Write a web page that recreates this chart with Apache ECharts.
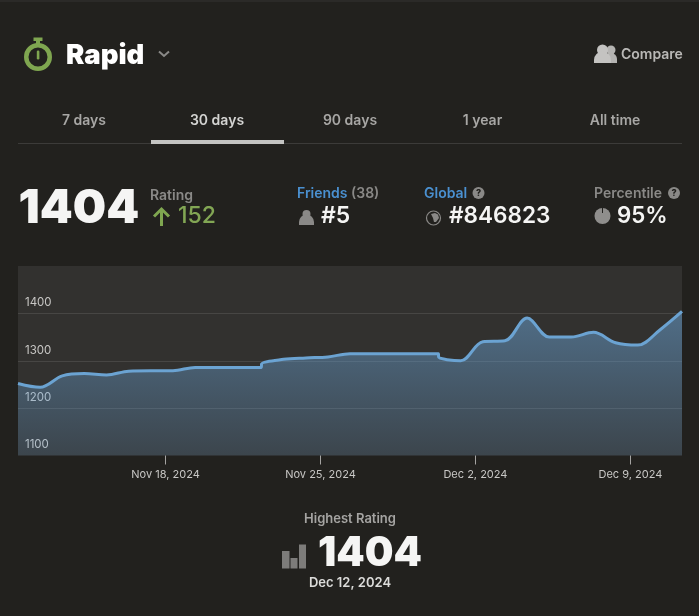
<!DOCTYPE html>
<html>
<head>
<meta charset="utf-8">
<title>Rapid rating</title>
<script src="https://cdn.jsdelivr.net/npm/echarts@6/dist/echarts.min.js"></script>
<style>
html,body{margin:0;padding:0;background:#22211e;}
#main{width:699px;height:616px;}
</style>
</head>
<body>
<div id="main"></div>
<script>
// one reading per day, the two doubled times are the little steps in the line
var dates = ['2024-11-11 08:00','2024-11-12 08:00','2024-11-13 08:00','2024-11-14 08:00','2024-11-15 08:00','2024-11-16 08:00',
'2024-11-17 08:00','2024-11-18 08:00','2024-11-19 08:00','2024-11-20 08:00','2024-11-21 08:00','2024-11-22 08:00','2024-11-22 08:01',
'2024-11-23 08:00','2024-11-24 08:00','2024-11-25 08:00','2024-11-26 08:00','2024-11-27 08:00','2024-11-28 08:00','2024-11-29 08:00',
'2024-11-30 08:00','2024-11-30 08:01','2024-12-01 08:00','2024-12-02 08:00','2024-12-03 08:00','2024-12-04 08:00','2024-12-05 08:00',
'2024-12-06 08:00','2024-12-07 08:00','2024-12-08 08:00','2024-12-09 08:00','2024-12-10 08:00','2024-12-11 08:00'];
var ratings = [1252,1244,1268,1273,1270,1278,
1279,1279,1286,1286,1286,1286,1293,
1303,1306,1308,1315,1315,1315,1315,
1315,1308,1300,1340,1342,1390,1350,
1350,1360,1338,1333,1365,1404];

var tickDates = ['2024-11-18 00:00','2024-11-25 00:00','2024-12-02 00:00','2024-12-09 00:00'];
var tickLabels = ['Nov 18, 2024','Nov 25, 2024','Dec 2, 2024','Dec 9, 2024'];
var tabs = ['7 days','30 days','90 days','1 year','All time'];

var FONT = 'Inter, "Noto Sans", sans-serif';
function toTime(d){ return echarts.time.parse(d).getTime(); }
var tickTimes = tickDates.map(toTime);

function txt(x,y,s,fill,weight,size,align){
    return {type:'text',silent:true,style:{x:x,y:y+1,text:s,fill:fill,font:weight+' '+size+'px '+FONT,textAlign:align||'left',textVerticalAlign:'middle'}};
}
function helpIcon(x,y){
    return [
        {type:'circle',shape:{cx:x,cy:y,r:6},style:{fill:'#8a8987'}},
        txt(x,y-0.5,'?','#22211e',800,9,'center')
    ];
}
// head and shoulders
function person(cx,headY,headR,bodyY,bodyR,bottom,fill){
    return [
        {type:'circle',shape:{cx:cx,cy:headY,r:headR},style:{fill:fill}},
        {type:'sector',shape:{cx:cx,cy:bodyY,r:bodyR,r0:0,startAngle:Math.PI,endAngle:Math.PI*2},style:{fill:fill}},
        {type:'rect',shape:{x:cx-bodyR,y:bodyY,width:bodyR*2,height:bottom-bodyY},style:{fill:fill}}
    ];
}

var GREEN = '#7fa650', GREY = '#8a8987', BLUE = '#4a90d0', WHITE = '#f5f5f4';
var els = [
    {type:'rect',shape:{x:0,y:0,width:699,height:2},style:{fill:'#2b2a28'}},
    // stopwatch
    {type:'ring',shape:{cx:38,cy:57,r:14,r0:9.5},style:{fill:GREEN}},
    {type:'rect',shape:{x:33.5,y:37.5,width:9,height:3.5},style:{fill:GREEN}},
    {type:'rect',shape:{x:36,y:41,width:4,height:3},style:{fill:GREEN}},
    {type:'rect',shape:{x:36.8,y:50.5,width:2.6,height:9,r:1.2},style:{fill:GREEN}},
    txt(66,54.5,'Rapid','#ffffff',900,27.5),
    {type:'polyline',shape:{points:[[159,51.5],[164,56],[169,51.5]]},style:{stroke:'#8a8987',lineWidth:2,fill:'none'}},
    txt(621,53.5,'Compare','#b9b8b6',600,14),
    // tabs
    {type:'rect',shape:{x:18,y:143,width:664,height:1},style:{fill:'#3c3b39'}},
    {type:'rect',shape:{x:151,y:140,width:133,height:4},style:{fill:'#c4c4c2'}},
    // rating
    txt(18.5,208,'1404',WHITE,900,47),
    txt(150,195,'Rating',GREY,600,14),
    {type:'polyline',shape:{points:[[161.5,226],[161.5,209.5]]},style:{stroke:GREEN,lineWidth:3,fill:'none'}},
    {type:'polyline',shape:{points:[[154,216.5],[161.5,209],[169,216.5]]},style:{stroke:GREEN,lineWidth:3,fill:'none'}},
    txt(178,215.5,'152','#82a654',500,23),
    // friends
    txt(297,192.5,'Friends',BLUE,600,14),
    txt(351,192.5,'(38)',GREY,600,14),
    txt(321,215.5,'#5',WHITE,600,23),
    // global
    txt(424,192.5,'Global',BLUE,600,14),
    {type:'circle',shape:{cx:433.5,cy:218,r:7},style:{fill:'#22211e',stroke:GREY,lineWidth:1.2}},
    {type:'polygon',shape:{points:[[431,214],[435,213],[438,214.5],[439,218],[436,222],[434,222],[433,218]]},style:{fill:GREY}},
    txt(449,215.5,'#846823',WHITE,600,22.6),
    // percentile
    txt(594,192.5,'Percentile',GREY,600,14),
    {type:'circle',shape:{cx:602.5,cy:216,r:8},style:{fill:'#8f8e8c'}},
    {type:'rect',shape:{x:602,y:208,width:1,height:5},style:{fill:'#22211e'}},
    txt(617,215.5,'95%',WHITE,600,22.3),
    // highest rating
    txt(350,518,'Highest Rating','#a5a4a2',600,13,'center'),
    {type:'rect',shape:{x:282,y:551,width:7.5,height:17.5},style:{fill:'#7d7c7a'}},
    {type:'rect',shape:{x:290.5,y:558,width:7,height:10.5},style:{fill:'#7d7c7a'}},
    {type:'rect',shape:{x:299,y:544.5,width:7,height:24},style:{fill:'#7d7c7a'}},
    txt(318,552.5,'1404',WHITE,900,40.5),
    txt(350,582,'Dec 12, 2024','#dcdcda',600,13,'center')
];
var tabX = [84,217,350,482.5,615];
for(var i = 0;i<tabs.length;i++){
    els.push(txt(tabX[i],119.5,tabs[i],i==1?'#d4d4d2':'#a8a7a5',600,14,'center'));
}
els = els.concat(helpIcon(478.5,193),helpIcon(674,193));
els = els.concat(person(306.5,214,4,222,7.5,225,GREY));
els = els.concat(person(611,50,4.5,59,6,63,'#b5b4b2'),person(602.5,50,5.5,60,8.5,63,'#c4c3c1'));

var myChart = echarts.init(document.getElementById('main'));
myChart.setOption({
    animation:false,
    backgroundColor:'#22211e',
    grid:{left:18,top:266,width:664,height:189.5,show:true,backgroundColor:'#32312f',borderWidth:0},
    xAxis:{
        type:'value',
        min:toTime(dates[0]),
        max:toTime(dates[dates.length-1]),
        axisLine:{show:false},
        splitLine:{show:false},
        axisTick:{show:true,length:9,customValues:tickTimes,lineStyle:{color:'#a5a4a2',width:1}},
        axisLabel:{
            customValues:tickTimes,
            margin:13.5,
            color:'#c8c7c5',
            fontFamily:FONT,
            fontSize:11,
            formatter:function(value){
                return tickLabels[tickTimes.indexOf(value)];
            }
        }
    },
    yAxis:{
        type:'value',
        min:1100,
        max:1500,
        interval:100,
        axisLine:{show:false},
        axisTick:{show:false},
        splitLine:{showMinLine:false,showMaxLine:false,lineStyle:{color:'#474644',width:1}},
        axisLabel:{
            inside:true,
            showMaxLabel:false,
            margin:7,
            color:'#c8c7c5',
            fontFamily:FONT,
            fontSize:11.5,
            verticalAlign:'bottom',
            padding:[0,0,4.5,0],
            formatter:function(value){
                return String(value);
            }
        }
    },
    series:[{
        type:'line',
        data:dates.map(function(d,i){ return [toTime(d),ratings[i]]; }),
        showSymbol:false,
        smooth:0.35,
        lineStyle:{color:'#6ba3d2',width:3},
        areaStyle:{
            color:new echarts.graphic.LinearGradient(0,0,0,1,[
                {offset:0,color:'rgba(106,163,213,0.76)'},
                {offset:1,color:'rgba(106,163,213,0.25)'}
            ])
        }
    }],
    graphic:{elements:els}
});
</script>
</body>
</html>
